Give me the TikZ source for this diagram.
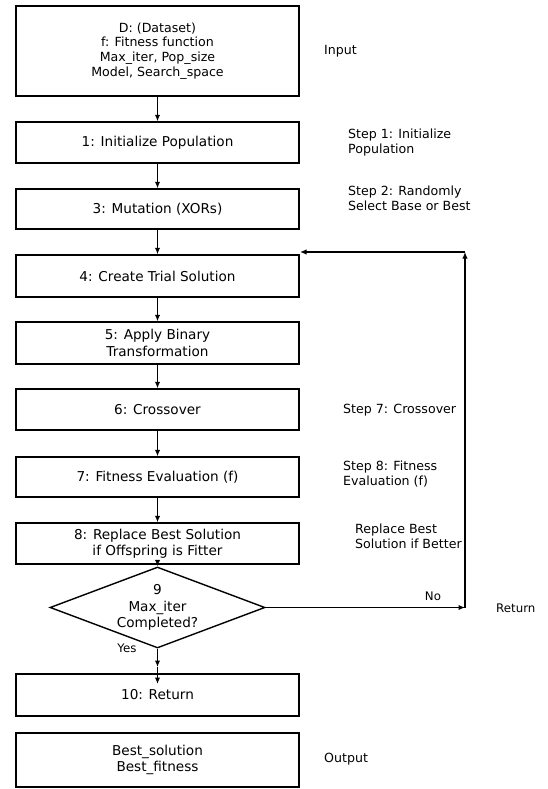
\documentclass[tikz,border=0pt]{standalone}
\usepackage{fontspec}
\setmainfont{DejaVu Sans}
\usetikzlibrary{shapes.geometric,arrows.meta}
\tikzset{
  boxnode/.style={draw=black, line width=1.4pt, minimum width=283pt, inner sep=0pt, align=center, font=\fontsize{13.6}{16.5}\selectfont},
  decnode/.style={draw=black, line width=1.4pt, shape=diamond, aspect=2.65, minimum width=215pt, minimum height=81pt, inner sep=0pt, align=center, font=\fontsize{13.6}{16.5}\selectfont},
  sidelabel/.style={anchor=west, align=left, inner sep=0pt, font=\fontsize{12.6}{15}\selectfont},
  smalllabel/.style={inner sep=0pt, font=\fontsize{11.8}{14}\selectfont},
  arr/.style={line width=1.4pt, draw=black, -{Latex[length=6.5pt,width=5.5pt]}}
}
\begin{document}
\begin{tikzpicture}[x=1pt,y=-1pt]
\useasboundingbox (0,0) rectangle (547,789);
% boxes
\node[boxnode, minimum height=90pt, font=\fontsize{12.6}{14.7}\selectfont] (inp) at (157.5,51) {D: (Dataset)\\f: Fitness function\\Max\_iter, Pop\_size\\Model, Search\_space};
\node[boxnode, minimum height=41pt] (b1) at (157.5,142.5) {1: Initialize Population};
\node[boxnode, minimum height=40pt] (b3) at (157.5,209) {3: Mutation (XORs)};
\node[boxnode, minimum height=42pt] (b4) at (157.5,276) {4: Create Trial Solution};
\node[boxnode, minimum height=42pt] (b5) at (157.5,343) {5: Apply Binary\\Transformation};
\node[boxnode, minimum height=41pt] (b6) at (157.5,409.5) {6: Crossover};
\node[boxnode, minimum height=40pt] (b7) at (157.5,477) {7: Fitness Evaluation (f)};
\node[boxnode, minimum height=41pt] (b8) at (157.5,543.5) {8: Replace Best Solution\\if Offspring is Fitter};
\node[decnode] (dia) at (157.5,607.5) {9\\Max\_iter\\Completed?};
\node[boxnode, minimum height=42pt] (b10) at (157.5,695) {10: Return};
\node[boxnode, minimum height=54pt] (out) at (157.5,760) {Best\_solution\\Best\_fitness};
% side labels
\node[sidelabel] (linp) at (324,51) {Input};
\node[sidelabel] (l1) at (348,142.5) {Step 1: Initialize\\Population};
\node[sidelabel] (l2) at (348,198.5) {Step 2: Randomly\\Select Base or Best};
\node[sidelabel] (l7) at (343,410) {Step 7: Crossover};
\node[sidelabel] (l8) at (343,474.5) {Step 8: Fitness\\Evaluation (f)};
\node[sidelabel] (lr) at (355,536.5) {Replace Best\\Solution if Better};
\node[sidelabel] (lout) at (324,759) {Output};
% flow arrows
\draw[arr] (inp.south) -- (b1.north);
\draw[arr] (b1.south) -- (b3.north);
\draw[arr] (b3.south) -- (b4.north);
\draw[arr] (b4.south) -- (b5.north);
\draw[arr] (b5.south) -- (b6.north);
\draw[arr] (b6.south) -- (b7.north);
\draw[arr] (b7.south) -- (b8.north);
\draw[arr] (b8.south) -- (dia.north);
\coordinate (y1) at (157.5,667);
\coordinate (y2) at (157.5,684);
\draw[arr] (dia.south) -- (y1);
\draw[arr] (y1) -- (y2);
% loop back
\coordinate (lp1) at (465,607.5);
\coordinate (lp2) at (465,252);
\coordinate (lp3) at (300,252);
\draw[arr] (dia.east) -- (lp1);
\draw[arr] (lp1) -- (lp2);
\draw[arr] (lp2) -- (lp3);
% branch labels
\node[smalllabel] (no) at (433,596) {No};
\node[smalllabel, anchor=west] (ret) at (496,608) {Return};
\node[smalllabel] (yes) at (127,648) {Yes};
\end{tikzpicture}
\end{document}
